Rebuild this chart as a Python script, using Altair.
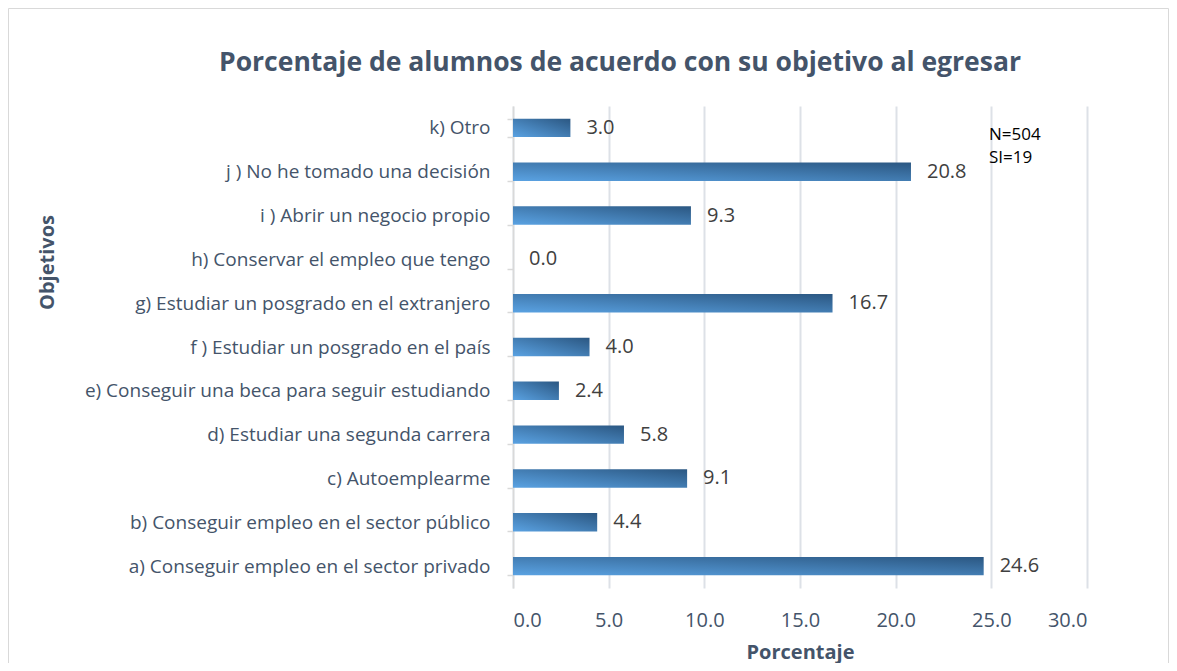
import altair as alt
import pandas as pd

categorias = [
    "k) Otro",
    "j ) No he tomado una decisión",
    "i ) Abrir un negocio propio",
    "h) Conservar el empleo que tengo",
    "g) Estudiar un posgrado en el extranjero",
    "f ) Estudiar un posgrado en el país",
    "e) Conseguir una beca para seguir estudiando",
    "d) Estudiar una segunda carrera",
    "c) Autoemplearme",
    "b) Conseguir empleo en el sector público",
    "a) Conseguir empleo en el sector privado",
]
porcentajes = [3.0, 20.8, 9.3, 0.0, 16.7, 4.0, 2.4, 5.8, 9.1, 4.4, 24.6]
x_ticks = [0, 5, 10, 15, 20, 25, 30]
nota = ["N=504", "SI=19"]
titulo = ["Porcentaje de alumnos de acuerdo con su objetivo al egresar"]

df = pd.DataFrame({"Objetivo": categorias, "Porcentaje": porcentajes})

FONT = "Open Sans"
TXT = "#44546A"

grad = alt.Gradient(
    gradient="linear",
    stops=[alt.GradientStop(color="#5aa2e2", offset=0),
           alt.GradientStop(color="#2b5782", offset=1)],
    x1=0, x2=1, y1=1, y2=0,
)

base = alt.Chart(df)

y_enc = alt.Y(
    "Objetivo:N", sort=categorias,
    scale=alt.Scale(paddingInner=0.58, paddingOuter=0.29),
    axis=alt.Axis(
        title="Objetivos", titleFont=FONT, titleFontSize=20, titleFontWeight="bold",
        titleColor=TXT, titleAngle=-90, titleX=-466, titleY=156, titleBaseline="middle",
        labelFont=FONT, labelFontSize=19, labelColor=TXT, labelPadding=17, labelLimit=600,
        domainColor="#d9d9d9", domainWidth=1.5, tickColor="#d9d9d9", tickWidth=1.5,
        tickSize=6, tickBand="extent", grid=False,
    ),
)

x_enc = alt.X(
    "Porcentaje:Q",
    scale=alt.Scale(domain=[0, 30], nice=False),
    axis=alt.Axis(
        values=x_ticks, format=".1f", title="Porcentaje",
        titleFont=FONT, titleFontSize=20, titleFontWeight="bold", titleColor=TXT,
        titlePadding=12,
        labelFont=FONT, labelFontSize=20, labelColor=TXT, labelPadding=22,
        domain=False, ticks=False, grid=True, gridColor="#dde1e7", gridWidth=2,
    ),
)

bars = base.mark_bar(color=grad).encode(x=x_enc, y=y_enc)

labels = base.mark_text(
    align="left", dx=16, font=FONT, fontSize=20, color="#404040"
).encode(
    x="Porcentaje:Q", y=alt.Y("Objetivo:N", sort=categorias),
    text=alt.Text("Porcentaje:Q", format=".1f"),
)

nota_df = pd.DataFrame({"t": ["\n".join(nota)]})
nota_txt = alt.Chart(nota_df).mark_text(
    align="left", baseline="top", font=FONT, fontSize=17, color="#000000",
    lineBreak="\n", lineHeight=23,
).encode(
    x=alt.value(476),
    y=alt.value(21),
    text="t:N",
)

titulo_txt = alt.Chart(pd.DataFrame({"t": titulo})).mark_text(
    align="center", baseline="middle", font=FONT, fontSize=26.5, fontWeight="bold",
    color=TXT,
).encode(
    x=alt.value(107),
    y=alt.value(-43),
    text="t:N",
)

borde = alt.Chart(pd.DataFrame({"a": [1]})).mark_rect(
    fill=None, stroke="#d9d9d9", strokeWidth=1
).encode(
    x=alt.value(-504.5), x2=alt.value(655.5),
    y=alt.value(-97.5), y2=alt.value(580),
)

chart = alt.layer(borde, bars, labels, nota_txt, titulo_txt).properties(
    width=574,
    height=482,
    autosize=alt.AutoSizeParams(type="none"),
    padding={"left": 505, "top": 98, "right": 82, "bottom": 75},
    background="white",
).configure_view(stroke=None)

chart.save("out.html", embed_options={"renderer": "svg", "actions": False})
